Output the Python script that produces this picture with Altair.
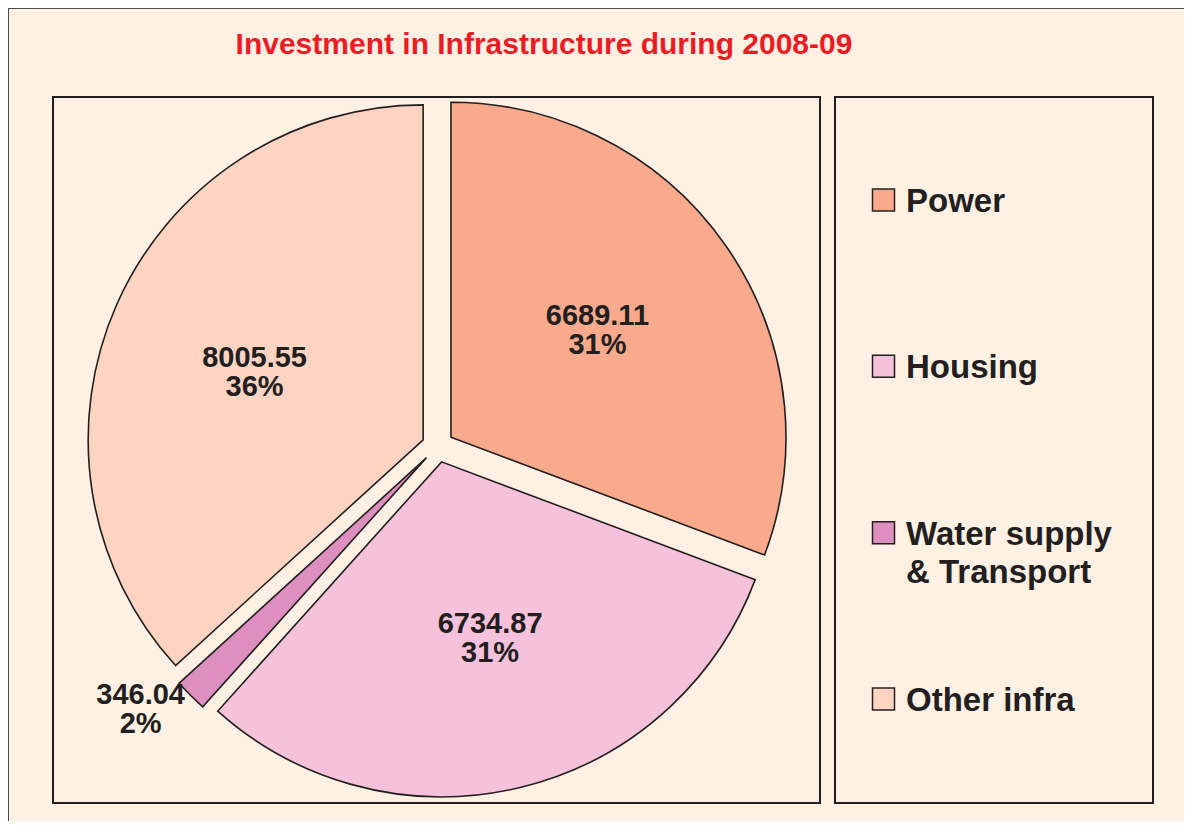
import altair as alt
import pandas as pd

# ---- data ----
categories = ["Power", "Housing", "Water supply & Transport", "Other infra"]
values = [6689.11, 6734.87, 346.04, 8005.55]
pct_labels = ["31%", "31%", "2%", "36%"]
colors = ["#F9AA8C", "#F6C1DB", "#DD8FC0", "#FDD3C1"]

title_text = "Investment in Infrastructure during 2008-09"

df = pd.DataFrame({
    "category": categories,
    "value": values,
    "pct": pct_labels,
    "order": list(range(len(categories))),
})
one = pd.DataFrame({"k": [0]})

INK = "#231F20"
BG = "#FEF1E4"
FONT = "Liberation Sans"

CX, CY, R, EXPLODE = 429.8, 438.3, 335, 16

base = (
    alt.Chart(df)
    .transform_window(cum="sum(value)", frame=[None, 0], sort=[alt.SortField("order")])
    .transform_joinaggregate(total="sum(value)")
    .transform_calculate(
        t1="datum.cum / datum.total * 2 * PI",
        t0="(datum.cum - datum.value) / datum.total * 2 * PI",
        mid="(datum.t0 + datum.t1) / 2",
        px=f"{CX} + {EXPLODE} * sin(datum.mid)",
        py=f"{CY} - {EXPLODE} * cos(datum.mid)",
        la="datum.mid + (datum.value / datum.total < 0.05 ? 0.07 : -0.03)",
        lr="datum.value / datum.total < 0.05 ? 380 : 182",
        lx="datum.px + datum.lr * sin(datum.la)",
        ly="datum.py - datum.lr * cos(datum.la)",
    )
)

color_enc = alt.Color("category:N", scale=alt.Scale(domain=categories, range=colors), legend=None)

arcs = base.mark_arc(radius=R, stroke=INK, strokeWidth=1.6, strokeJoin="miter").encode(
    theta=alt.Theta("t0:Q", scale=None, stack=None),
    theta2="t1:Q",
    x=alt.X("px:Q", scale=None),
    y=alt.Y("py:Q", scale=None),
    color=color_enc,
)

val_text = base.mark_text(font=FONT, fontWeight="bold", fontSize=29, color=INK,
                          baseline="alphabetic", dy=-4).encode(
    x=alt.X("lx:Q", scale=None),
    y=alt.Y("ly:Q", scale=None),
    text=alt.Text("value:Q", format=".2f"),
)
pct_text = base.mark_text(font=FONT, fontWeight="bold", fontSize=29, color=INK,
                          baseline="alphabetic", dy=25).encode(
    x=alt.X("lx:Q", scale=None),
    y=alt.Y("ly:Q", scale=None),
    text="pct:N",
)

# ---- frames ----
plot_box = alt.Chart(one).mark_rect(fill=BG, stroke=INK, strokeWidth=2).encode(
    x=alt.value(45), x2=alt.value(812), y=alt.value(89), y2=alt.value(795)
)
legend_box = alt.Chart(one).mark_rect(fill=BG, stroke=INK, strokeWidth=2).encode(
    x=alt.value(827), x2=alt.value(1145), y=alt.value(89), y2=alt.value(795)
)
top_line = alt.Chart(one).mark_rule(stroke="#4a4a4a", strokeWidth=2).encode(
    x=alt.value(0), x2=alt.value(1176), y=alt.value(0)
)
left_line = alt.Chart(one).mark_rule(stroke="#4a4a4a", strokeWidth=2).encode(
    x=alt.value(0), y=alt.value(0), y2=alt.value(813)
)

title = alt.Chart(one).mark_text(
    font=FONT, fontWeight="bold", fontSize=30, color="#ED1C24", align="center", baseline="alphabetic"
).encode(x=alt.value(536), y=alt.value(46), text=alt.value(title_text))

# ---- legend ----
leg = alt.Chart(df).transform_calculate(
    line1="split(datum.category, ' & ')[0]",
    line2="indexof(datum.category, ' & ') >= 0 ? '& ' + split(datum.category, ' & ')[1] : ''",
)
ly_enc = alt.Y("category:N", scale=alt.Scale(domain=categories, range=[192, 691], padding=0),
               axis=None)

swatch = leg.mark_square(size=484, filled=True, opacity=1, stroke=INK, strokeWidth=1.5).encode(
    x=alt.value(875.5), y=ly_enc, color=color_enc
)
leg_t1 = leg.mark_text(font=FONT, fontWeight="bold", fontSize=33, color=INK, align="left",
                       baseline="middle", dy=2).encode(x=alt.value(898), y=ly_enc, text="line1:N")
leg_t2 = leg.mark_text(font=FONT, fontWeight="bold", fontSize=33, color=INK, align="left",
                       baseline="middle", dy=40).encode(x=alt.value(898), y=ly_enc, text="line2:N")

pie_layer = alt.layer(arcs, val_text, pct_text)
legend_layer = alt.layer(swatch, leg_t1, leg_t2)

chart = (
    alt.layer(top_line, left_line, plot_box, legend_box, title, pie_layer, legend_layer)
    .resolve_scale(x="independent", y="independent", color="shared")
    .properties(width=1176, height=813, autosize=alt.AutoSizeParams(type="none"), padding=0,
                background=BG)
    .configure_view(stroke=None)
)

chart.save("out.html", embed_options={"renderer": "svg", "actions": False})
